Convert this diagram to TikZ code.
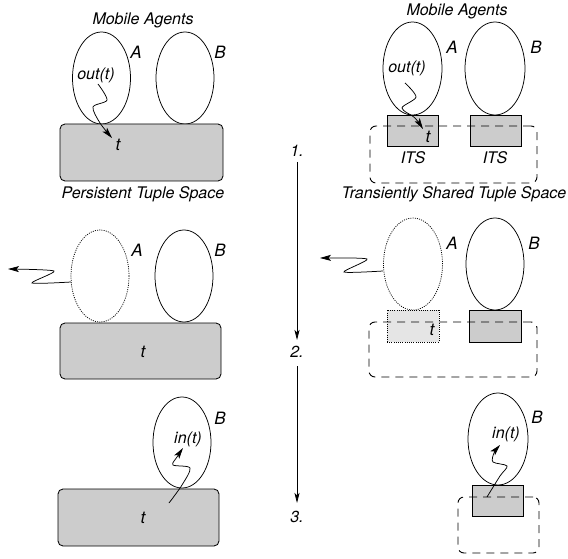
\documentclass[tikz,border=0pt]{standalone}
\usepackage{fontspec}
\setmainfont{TeX Gyre Heros}
\usetikzlibrary{shapes.geometric,arrows.meta}
\definecolor{tsfill}{gray}{0.8}
\definecolor{ghostfill}{gray}{0.9}
\begin{document}
\begin{tikzpicture}[x=1pt,y=-1pt,
  every node/.style={inner sep=0pt, outer sep=0pt},
  txt/.style={font=\fontsize{16}{19}\selectfont\itshape},
  big/.style={font=\fontsize{17}{20}\selectfont\itshape},
  agent/.style={draw, ellipse, line width=0.75pt, minimum width=58pt, minimum height=92pt},
  ghostagent/.style={agent, dash pattern=on 1pt off 1.2pt},
  pts/.style={draw, rectangle, rounded corners=5pt, fill=tsfill, line width=0.85pt},
  itsbox/.style={draw, rectangle, fill=tsfill, line width=0.85pt, minimum width=51pt, minimum height=31pt},
  ghostits/.style={draw, rectangle, fill=ghostfill, line width=0.75pt, dash pattern=on 1pt off 1.2pt, minimum width=52pt, minimum height=32pt},
  tshare/.style={draw, rectangle, rounded corners=6pt, line width=0.9pt, dash pattern=on 8pt off 6pt},
  squig/.style={line width=0.75pt, -{Stealth[length=11pt,width=6pt,inset=2.5pt]}},
  stepline/.style={line width=0.75pt, -{Stealth[length=10pt,width=5pt,inset=2.5pt]}}
]
\useasboundingbox (0,0) rectangle (568,559);

% ---------- left column: persistent tuple space ----------
\node[txt] (maL) at (143,20) {Mobile Agents};
\node[agent] (A1) at (101.5,78) {};
\node[agent] (B1) at (185,78) {};
\node[pts, minimum width=163pt, minimum height=57pt] (P1) at (141.5,152.5) {};
\node[big] (lA1) at (136,52) {A};
\node[big] (lB1) at (220,52) {B};
\node[txt] (out1) at (96,75) {out(t)};
\node[big] (t1) at (118,145) {t};
\coordinate (s1a) at (98,84);
\coordinate (s1b) at (112,138);
\draw[squig] plot[smooth, tension=0.5] coordinates {(s1a) (107,100) (93,107) (100,123) (s1b)};
\node[txt] (pts1) at (143,194) {Persistent Tuple Space};

\node[ghostagent] (A2) at (100,276) {};
\node[agent] (B2) at (184,276) {};
\node[pts, minimum width=161pt, minimum height=56pt] (P2) at (140.5,351) {};
\node[big] (lA2) at (137,250) {A};
\node[big] (lB2) at (220,250) {B};
\node[big] (t2) at (143,352) {t};
\coordinate (s2a) at (71,282);
\coordinate (s2b) at (8,269);
\draw[squig] plot[smooth, tension=0.4] coordinates {(s2a) (32,283) (54,271) (s2b)};

\node[agent, minimum height=91pt] (B3) at (182,442.5) {};
\node[pts, minimum width=161pt, minimum height=57pt] (P3) at (138.5,517.5) {};
\node[big] (lB3) at (220,418) {B};
\node[txt] (in3) at (188,439) {in(t)};
\node[big] (t3) at (143,518) {t};
\coordinate (s3a) at (169,503);
\coordinate (s3b) at (183,448);
\draw[squig] plot[smooth, tension=0.5] coordinates {(s3a) (182,485) (190,468) (173,465) (177,457) (s3b)};

% ---------- timeline ----------
\node[txt] (n1) at (297,151) {1.};
\node[txt] (n2) at (297,352) {2.};
\node[txt] (n3) at (297,517) {3.};
\draw[stepline] (297,162) -- (297,340);
\draw[stepline] (297,366) -- (297,503);

% ---------- right column: transiently shared tuple space ----------
\node[txt] (maR) at (457,11) {Mobile Agents};
\node[agent, minimum width=59pt, minimum height=93pt] (A4) at (412.5,68.5) {};
\node[agent, minimum width=60pt, minimum height=93pt] (B4) at (495,68.5) {};
\node[itsbox] (RA4) at (412.5,130.5) {};
\node[itsbox] (RB4) at (496,130.5) {};
\node[tshare, minimum width=167pt, minimum height=57pt] (D4) at (453.5,154.5) {};
\node[big] (lA4) at (452,47) {A};
\node[big] (lB4) at (536,47) {B};
\node[txt] (out4) at (407,68) {out(t)};
\node[big] (t4) at (428,137) {t};
\node[txt] (its4a) at (413,158) {ITS};
\node[txt] (its4b) at (495,158) {ITS};
\coordinate (s4a) at (405,83);
\coordinate (s4b) at (423,129);
\draw[squig] plot[smooth, tension=0.5] coordinates {(s4a) (416,97) (402,108) (415,118) (s4b)};
\node[txt] (tss) at (454,194) {Transiently Shared Tuple Space};

\node[ghostagent, minimum width=59pt] (A5) at (413,264) {};
\node[agent] (B5) at (495,264) {};
\node[ghostits] (RA5) at (413,326) {};
\node[itsbox, minimum width=52pt, minimum height=32pt] (RB5) at (495,326) {};
\node[tshare, minimum width=168pt, minimum height=55pt] (D5) at (453,349.5) {};
\node[big] (lA5) at (452,243) {A};
\node[big] (lB5) at (534,243) {B};
\node[big] (t5) at (432,330) {t};
\coordinate (s5a) at (383,271);
\coordinate (s5b) at (320,258);
\draw[squig] plot[smooth, tension=0.4] coordinates {(s5a) (344,272) (367,259) (s5b)};

\node[agent, minimum width=60pt] (B6) at (498,439) {};
\node[itsbox] (R6) at (497.5,500.5) {};
\node[tshare, minimum width=81pt, minimum height=56pt] (D6) at (498.5,525) {};
\node[big] (lB6) at (537,417) {B};
\node[txt] (in6) at (506,434) {in(t)};
\coordinate (s6a) at (487,497);
\coordinate (s6b) at (500,445);
\draw[squig] plot[smooth, tension=0.5] coordinates {(s6a) (500,476) (507,466) (493,462) (494,453) (s6b)};
\end{tikzpicture}
\end{document}
